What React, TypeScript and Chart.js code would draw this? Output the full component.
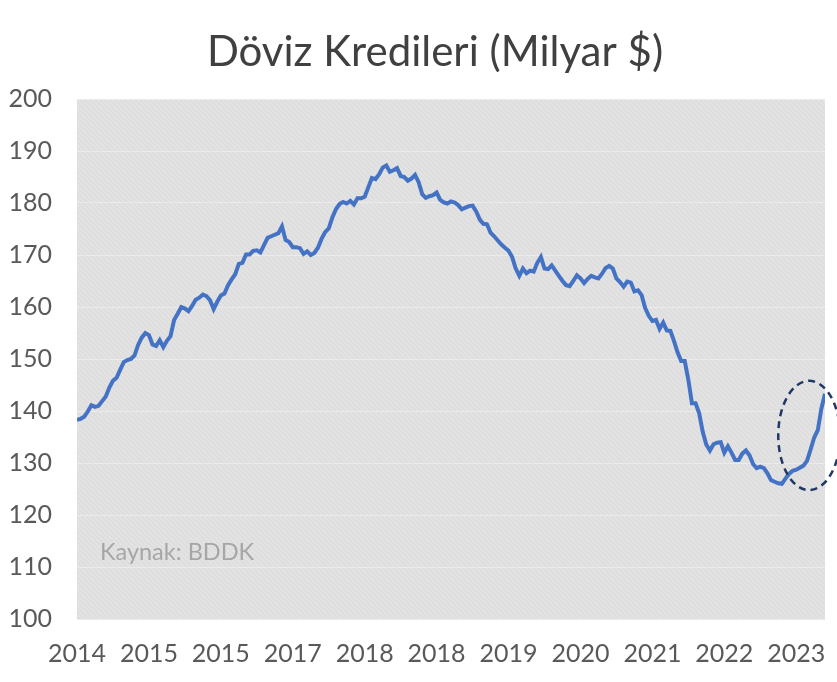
import React, { useEffect, useRef } from "react";
import { Chart, registerables } from "chart.js";

Chart.register(...registerables);

const TITLE = "Döviz Kredileri (Milyar $)";
const SOURCE = "Kaynak: BDDK";
const xTickLabels = ["2014", "2015", "2015", "2017", "2018", "2018", "2019", "2020", "2021", "2022", "2023"];
const TICK_EVERY = 20;

const values2014_2015 = [
  138.3, 138.5, 138.9, 139.9, 141.1, 140.8, 141.0, 141.9, 142.8, 144.5,
  145.8, 146.4, 147.9, 149.4, 149.8, 150.0, 150.7, 152.7, 154.1, 155.0,
];
const values2015_2016 = [
  154.6, 152.8, 152.5, 153.6, 152.3, 153.5, 154.4, 157.5, 158.7, 160.0,
  159.7, 159.2, 160.2, 161.4, 161.8, 162.4, 162.1, 161.3, 159.6, 161.0,
];
const values2016_2017 = [
  162.2, 162.6, 164.2, 165.3, 166.3, 168.3, 168.5, 170.1, 170.1, 170.8,
  170.9, 170.5, 171.9, 173.3, 173.6, 173.9, 174.2, 175.5, 172.9, 172.5,
];
const values2017_2018 = [
  171.5, 171.5, 171.3, 170.2, 170.7, 170.0, 170.4, 171.4, 173.1, 174.4,
  175.1, 177.2, 178.8, 179.8, 180.2, 179.9, 180.4, 179.7, 180.9, 180.9,
];
const values2018a = [
  181.2, 183.0, 184.8, 184.6, 185.5, 186.8, 187.2, 186.0, 186.3, 186.7,
  185.2, 185.0, 184.3, 184.7, 185.4, 184.0, 181.7, 181.0, 181.3, 181.5,
];
const values2018b = [
  182.0, 180.6, 180.1, 179.9, 180.3, 180.1, 179.6, 178.8, 179.1, 179.4,
  179.5, 178.4, 176.8, 176.0, 175.9, 174.3, 173.6, 172.8, 172.0, 171.4,
];
const values2019 = [
  170.8, 169.6, 167.4, 166.0, 167.4, 166.5, 167.0, 166.8, 168.5, 169.6,
  167.4, 167.3, 168.0, 167.0, 166.0, 165.0, 164.2, 164.0, 165.0, 166.1,
];
const values2020 = [
  165.5, 164.6, 165.4, 166.0, 165.7, 165.5, 166.4, 167.5, 167.9, 167.4,
  165.5, 164.8, 163.9, 164.9, 164.7, 163.0, 163.2, 162.3, 159.8, 158.3,
];
const values2021 = [
  157.3, 157.5, 155.8, 157.0, 155.5, 155.4, 153.5, 151.3, 149.6, 149.6,
  146.0, 141.5, 141.5, 139.6, 136.0, 133.5, 132.4, 133.6, 133.9, 134.0,
];
const values2022 = [
  132.0, 133.2, 132.0, 130.6, 130.6, 131.8, 132.4, 131.5, 129.8, 129.0,
  129.3, 129.0, 128.0, 126.7, 126.4, 126.1, 126.0, 127.0, 127.9, 128.5,
];
const values2023 = [128.7, 129.1, 129.5, 130.4, 132.6, 134.9, 136.3, 140.5, 143.3];

const values = [
  ...values2014_2015, ...values2015_2016, ...values2016_2017, ...values2017_2018,
  ...values2018a, ...values2018b, ...values2019, ...values2020, ...values2021,
  ...values2022, ...values2023,
];

// highlight ellipse (data units): centre index / value, radii
const ellipseCenter = [203.6, 135.3];
const ellipseRadii = [8.6, 10.5];

const FONT = "Lato, 'Open Sans', sans-serif";

export default function App() {
  const ref = useRef<HTMLCanvasElement | null>(null);

  useEffect(() => {
    const canvas = ref.current;
    if (!canvas) return;

    const pc = document.createElement("canvas");
    pc.width = 5;
    pc.height = 5;
    const pctx = pc.getContext("2d")!;
    pctx.fillStyle = "#e2e2e2";
    pctx.fillRect(0, 0, 5, 5);
    pctx.fillStyle = "#d9d9d9";
    for (let i = 0; i < 5; i++) pctx.fillRect(i, i, 1, 1);

    const bgPlugin = {
      id: "bgHatch",
      beforeDraw(chart: any) {
        const { ctx, chartArea } = chart;
        const pat = ctx.createPattern(pc, "repeat");
        ctx.save();
        ctx.fillStyle = pat;
        ctx.fillRect(chartArea.left, chartArea.top, chartArea.right - chartArea.left, chartArea.bottom - chartArea.top);
        ctx.restore();
      },
      afterDraw(chart: any) {
        const { ctx } = chart;
        const xs = chart.scales.x;
        const ys = chart.scales.y;
        ctx.save();
        // title
        ctx.font = `42px ${FONT}`;
        ctx.fillStyle = "#404040";
        ctx.textBaseline = "alphabetic";
        ctx.textAlign = "center";
        ctx.fillText(TITLE, 435, 66);

        ctx.font = `23.5px ${FONT}`;
        ctx.fillStyle = "#a6a6a6";
        ctx.textBaseline = "middle";
        ctx.textAlign = "left";
        ctx.fillText(SOURCE, chart.chartArea.left + 23, ys.getPixelForValue(112.8));

        const cx = xs.getPixelForValue(ellipseCenter[0]);
        const cy = ys.getPixelForValue(ellipseCenter[1]);
        const rx = Math.abs(xs.getPixelForValue(ellipseCenter[0] + ellipseRadii[0]) - cx);
        const ry = Math.abs(ys.getPixelForValue(ellipseCenter[1] + ellipseRadii[1]) - cy);
        ctx.beginPath();
        ctx.ellipse(cx, cy, rx, ry, 0, 0, Math.PI * 2);
        ctx.setLineDash([7, 5]);
        ctx.lineWidth = 2.5;
        ctx.strokeStyle = "#203864";
        ctx.stroke();
        ctx.restore();
      },
    };

    const chart = new Chart(canvas, {
      type: "line",
      data: {
        datasets: [
          {
            label: "Döviz Kredileri",
            data: values.map((v, i) => ({ x: i, y: v })),
            borderColor: "#4472c4",
            borderWidth: 4,
            pointRadius: 0,
            tension: 0,
            fill: false,
          },
        ],
      },
      options: {
        animation: false,
        responsive: false,
        maintainAspectRatio: false,
        layout: { padding: { left: 0, right: 12, top: 99, bottom: 0 } },
        plugins: {
          legend: { display: false },
          tooltip: { enabled: false },
          title: { display: false },
        },
        scales: {
          x: {
            type: "linear",
            min: 0,
            max: values.length - 1,
            grid: { display: false, drawTicks: false },
            border: { display: false },
            afterFit(scale: any) {
              scale.height = 63;
              scale.paddingLeft = 0;
              scale.paddingRight = 0;
            },
            ticks: {
              stepSize: TICK_EVERY,
              includeBounds: false,
              autoSkip: false,
              maxRotation: 0,
              padding: 20,
              color: "#595959",
              font: { family: FONT, size: 25 },
              callback: (v: any) => {
                const k = Number(v) / TICK_EVERY;
                return Number.isInteger(k) && xTickLabels[k] ? xTickLabels[k] : "";
              },
            },
          },
          y: {
            min: 100,
            max: 200,
            grid: { color: "#ebebeb", lineWidth: 1, drawTicks: false },
            border: { display: false },
            afterFit(scale: any) {
              scale.width = 77;
              scale.paddingTop = 0;
              scale.paddingBottom = 0;
            },
            ticks: {
              stepSize: 10,
              padding: 25,
              color: "#595959",
              font: { family: FONT, size: 25 },
            },
          },
        },
      },
      plugins: [bgPlugin],
    });

    return () => chart.destroy();
  }, []);

  return (
    <div style={{ position: "fixed", left: 0, top: 0, width: 837, height: 682, background: "#fff" }}>
      <canvas ref={ref} width={837} height={682} style={{ display: "block" }} />
    </div>
  );
}
